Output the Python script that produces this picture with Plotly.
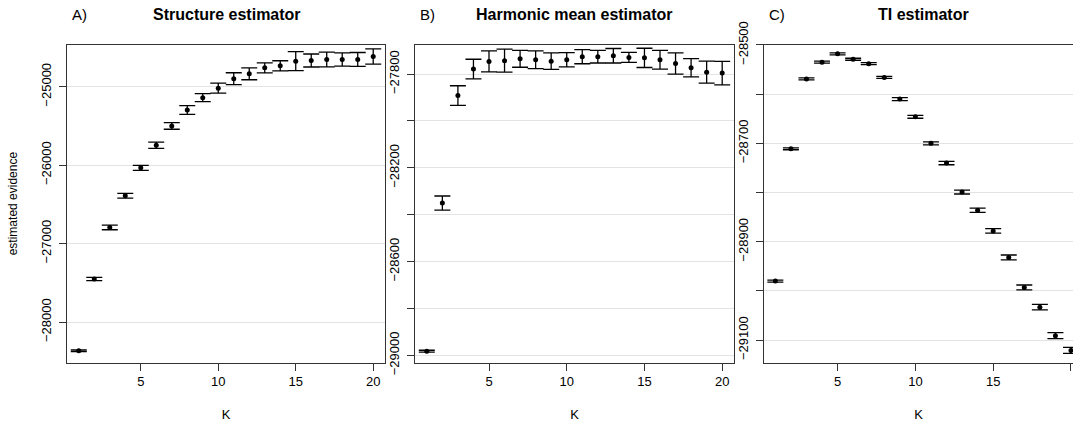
import plotly.graph_objects as go
from plotly.subplots import make_subplots

# K values shared by all three panels
k_values = list(range(1, 21))

# A) Structure estimator
structure_mean = [-28365, -27450, -26793, -26390, -26034, -25746, -25500, -25297, -25140, -25018,
                  -24898, -24835, -24759, -24733, -24675, -24666, -24653, -24653, -24653, -24615]
structure_err = [10, 20, 30, 30, 32, 40, 42, 55, 51, 64,
                 76, 76, 64, 64, 121, 83, 95, 85, 89, 98]

# B) Harmonic mean estimator
harmonic_mean = [-28982, -28350, -27892, -27779, -27746, -27743, -27735, -27739, -27745, -27739,
                 -27726, -27726, -27722, -27729, -27731, -27739, -27755, -27773, -27792, -27796]
harmonic_err = [4, 30, 42, 42, 45, 49, 36, 38, 35, 30,
                30, 27, 31, 21, 41, 40, 45, 39, 47, 50]

# C) TI estimator
ti_mean = [-28980, -28711, -28569, -28535, -28518, -28529, -28538, -28566, -28610, -28646,
           -28700, -28740, -28799, -28836, -28878, -28932, -28993, -29033, -29091, -29121]
ti_err = [2, 2, 2, 2, 2, 2, 2, 2, 3, 3,
          3, 3.5, 4, 4.5, 4.5, 5, 5, 5.5, 6, 6]

# tick labels
x_ticks = [5, 10, 15, 20]
a_ticks = [-28000, -27000, -26000, -25000]
a_labels = ["−28000", "−27000", "−26000", "−25000"]
b_ticks = [-29000, -28800, -28600, -28400, -28200, -28000, -27800]
b_labels = ["−29000", "", "−28600", "", "−28200", "", "−27800"]
c_ticks = [-29100, -29000, -28900, -28800, -28700, -28600, -28500]
c_labels = ["−29100", "", "−28900", "", "−28700", "", "−28500"]

panel_titles = ["Structure estimator", "Harmonic mean estimator", "TI estimator"]
panel_letters = ["A)", "B)", "C)"]

FONT = "Liberation Sans, Arial, Helvetica, sans-serif"
W, H = 1073, 422

fig = make_subplots(rows=1, cols=3)

series = [(structure_mean, structure_err), (harmonic_mean, harmonic_err), (ti_mean, ti_err)]
for i, (mean, err) in enumerate(series):
    fig.add_trace(go.Scatter(
        x=k_values, y=mean,
        mode="markers",
        marker=dict(color="black", size=5),
        error_y=dict(type="data", array=err, color="black", thickness=1.3, width=8),
        showlegend=False,
    ), row=1, col=i + 1)

# panel pixel boxes (left, right) and shared vertical extent
px_boxes = [(67, 385), (415, 734), (764, 1073)]
top_px, bottom_px = 44.5, 362.7
ydom = [(H - bottom_px) / H, (H - top_px) / H]

x_ranges = [[0.24, 20.76], [0.24, 20.76], [0.27, 20.13]]
y_ranges = [[-28517, -24462], [-29031, -27674], [-29146, -28499]]
y_ticks = [(a_ticks, a_labels), (b_ticks, b_labels), (c_ticks, c_labels)]

axis_common = dict(
    showline=True, linecolor="#333333", linewidth=1.3,
    ticks="outside", ticklen=7, tickwidth=1.2, tickcolor="#333333",
    tickfont=dict(family=FONT, size=13, color="black"),
    zeroline=False, automargin=False,
)

for i in range(3):
    l, r = px_boxes[i]
    xa = "xaxis" if i == 0 else f"xaxis{i + 1}"
    ya = "yaxis" if i == 0 else f"yaxis{i + 1}"
    fig.update_layout({
        xa: dict(axis_common, domain=[l / W, r / W], range=x_ranges[i],
                 tickvals=x_ticks, showgrid=False, mirror=True,
                 title=dict(text="K", font=dict(family=FONT, size=13, color="black"), standoff=22)),
        ya: dict(axis_common, domain=ydom, range=y_ranges[i],
                 tickvals=y_ticks[i][0], ticktext=y_ticks[i][1], tickangle=-90,
                 ticklabelstandoff=3,
                 showgrid=True, gridcolor="#e3e3e3", gridwidth=1,
                 mirror=(i < 2)),
    })
    cx = (l + (l + 319)) / 2 / W
    fig.add_annotation(text="<b>" + panel_titles[i] + "</b>", xref="paper", yref="paper",
                       x=cx, y=(H - 15) / H, showarrow=False, xanchor="center", yanchor="middle",
                       font=dict(family=FONT, size=16, color="black"))
    fig.add_annotation(text=panel_letters[i], xref="paper", yref="paper",
                       x=(l + 3) / W, y=(H - 15) / H, showarrow=False, xanchor="left", yanchor="middle",
                       font=dict(family=FONT, size=15, color="black"))

fig.update_layout(yaxis_title=dict(text="estimated evidence",
                                   font=dict(family=FONT, size=12, color="black"), standoff=18))

fig.update_layout(
    width=W, height=H,
    margin=dict(l=0, r=0, t=0, b=0),
    plot_bgcolor="white", paper_bgcolor="white",
    font=dict(family=FONT, color="black"),
)

# drop the browser's default body margin so the figure sits flush in the window
fig.write_html("out.html", config={"displayModeBar": False},
               post_script="document.body.style.margin='0';document.body.style.overflow='hidden';")
